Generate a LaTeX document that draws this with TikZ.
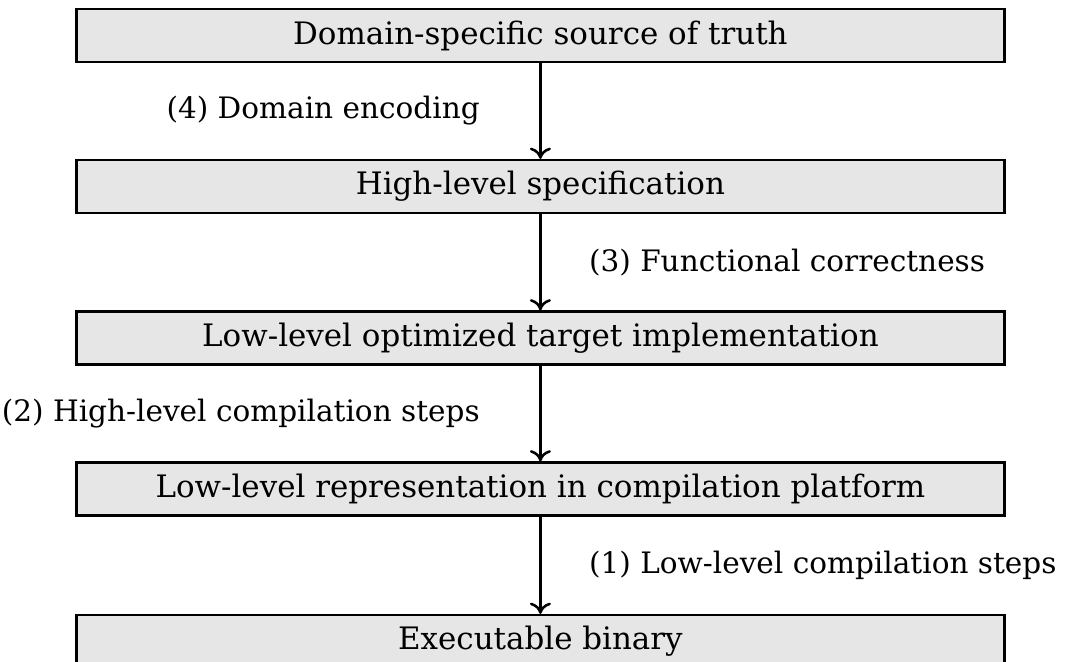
\documentclass[tikz,border=0pt]{standalone}
\usepackage{fontspec}
\setmainfont{DejaVu Serif}
\usetikzlibrary{arrows.meta}
\definecolor{boxgray}{RGB}{230, 230, 230}

\begin{document}
\begin{tikzpicture}[
        level/.style={draw=black, fill=boxgray, line width=1.6pt, minimum width=23.2cm, minimum height=1.325cm, inner sep=0pt, font=\fontsize{22}{26}\selectfont},
        flow/.style={line width=2.4pt, -{To[length=8pt, width=15pt, line width=1.8pt]}},
        note/.style={inner sep=0pt, font=\fontsize{21}{25}\selectfont}
    ]
            \useasboundingbox                                         ( 0.00, 0.00) rectangle (26.65,-16.55);
            \node[level] (truth)   at (13.51, -0.8875) {Domain-specific source of truth};
            \node[level] (spec)    at (13.51, -4.6625) {High-level specification};
            \node[level] (impl)    at (13.51, -8.4500) {Low-level optimized target implementation};
            \node[level] (repr)    at (13.51,-12.2250) {Low-level representation in compilation platform};
            \node[level] (binary)  at (13.51,-16.0375) {Executable binary};
            \draw[flow] (truth) -- (spec)   node[note, midway, left=1.475cm]  (encoding)  {(4) Domain encoding};
            \draw[flow] (spec)  -- (impl)   node[note, midway, right=1.175cm] (correct)   {(3) Functional correctness};
            \draw[flow] (impl)  -- (repr)   node[note, midway, left=1.475cm]  (highsteps) {(2) High-level compilation steps};
            \draw[flow] (repr)  -- (binary) node[note, midway, right=1.175cm] (lowsteps)  {(1) Low-level compilation steps};
        \end{tikzpicture}
\end{document}
